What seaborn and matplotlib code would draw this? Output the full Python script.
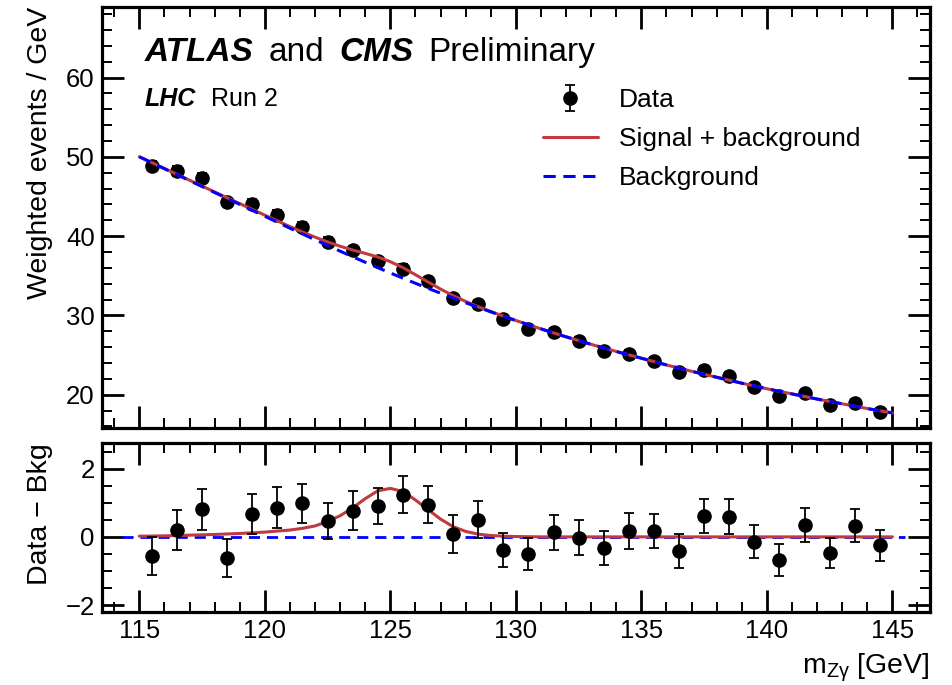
import numpy as np
import pandas as pd
import matplotlib
matplotlib.use('Agg')
import matplotlib.pyplot as plt
import seaborn as sns
from matplotlib.ticker import MultipleLocator

# bin centres (1 GeV bins) and weighted data
mass = [115.5, 116.5, 117.5, 118.5, 119.5, 120.5, 121.5, 122.5, 123.5, 124.5,
        125.5, 126.5, 127.5, 128.5, 129.5, 130.5, 131.5, 132.5, 133.5, 134.5,
        135.5, 136.5, 137.5, 138.5, 139.5, 140.5, 141.5, 142.5, 143.5, 144.5]
data_w = [48.9, 48.2, 47.3, 44.3, 44.1, 42.7, 41.2, 39.3, 38.2, 36.8,
          35.9, 34.3, 32.2, 31.4, 29.5, 28.3, 27.9, 26.75, 25.5, 25.1,
          24.25, 22.9, 23.15, 22.4, 21.0, 19.8, 20.15, 18.7, 18.95, 17.8]
# data - background and its error
resid = [-0.55, 0.20, 0.81, -0.61, 0.67, 0.86, 0.98, 0.46, 0.76, 0.91,
         1.24, 0.94, 0.09, 0.50, -0.38, -0.51, 0.13, -0.03, -0.33, 0.17,
         0.18, -0.42, 0.61, 0.59, -0.14, -0.68, 0.35, -0.48, 0.33, -0.25]
resid_err = [0.56, 0.59, 0.60, 0.56, 0.59, 0.59, 0.57, 0.53, 0.57, 0.53,
             0.55, 0.54, 0.55, 0.54, 0.50, 0.47, 0.50, 0.51, 0.49, 0.53,
             0.50, 0.49, 0.51, 0.52, 0.49, 0.48, 0.49, 0.44, 0.48, 0.46]

# fitted curves
m_curve = [115, 116, 117, 118, 119, 120, 121, 121.5, 122, 122.5, 123, 123.5,
           124, 124.5, 125, 125.5, 126, 126.5, 127, 127.5, 128, 128.5, 129,
           129.5, 130, 131, 132, 133, 134, 135, 136, 137, 138, 139, 140, 141,
           142, 143, 144, 145]
bkg_curve = [50.0, 48.5, 47.0, 45.5, 44.0, 42.5, 41.0, 40.27, 39.55, 38.82,
             38.1, 37.4, 36.7, 36.02, 35.35, 34.7, 34.05, 33.42, 32.8, 32.2,
             31.6, 31.02, 30.45, 29.9, 29.35, 28.3, 27.3, 26.35, 25.45, 24.6,
             23.75, 22.95, 22.2, 21.45, 20.75, 20.1, 19.45, 18.85, 18.25, 17.7]
sig_curve = [0.02, 0.03, 0.05, 0.07, 0.10, 0.14, 0.20, 0.25, 0.32, 0.45,
             0.62, 0.85, 1.12, 1.35, 1.42, 1.33, 1.08, 0.80, 0.52, 0.30,
             0.16, 0.08, 0.04, 0.02, 0.01, 0, 0, 0, 0, 0,
             0, 0, 0, 0, 0, 0, 0, 0, 0, 0]

curves = pd.DataFrame({'m': m_curve, 'bkg': bkg_curve, 'sig': sig_curve})
curves['sb'] = curves['bkg'] + curves['sig']

red = '#c03a3e'
blue = '#0000ff'

sns.set_theme(style='ticks')
plt.rcParams['font.family'] = ['Liberation Sans', 'DejaVu Sans']
plt.rcParams['mathtext.fontset'] = 'custom'
plt.rcParams['mathtext.rm'] = 'Liberation Sans'
plt.rcParams['axes.edgecolor'] = 'black'
plt.rcParams['axes.labelcolor'] = 'black'
plt.rcParams['text.color'] = 'black'
plt.rcParams['xtick.color'] = 'black'
plt.rcParams['ytick.color'] = 'black'

fig = plt.figure(figsize=(9.53, 6.85), dpi=100)
ax1 = fig.add_axes([0.1067, 0.3752, 0.8692, 0.6146])
ax2 = fig.add_axes([0.1067, 0.1066, 0.8692, 0.2467])


def style(ax, ymin, ymax, ymajor, yminor):
    ax.set_xlim(113.5, 146.5)
    ax.set_ylim(ymin, ymax)
    ax.xaxis.set_major_locator(MultipleLocator(5))
    ax.xaxis.set_minor_locator(MultipleLocator(1))
    ax.yaxis.set_major_locator(MultipleLocator(ymajor))
    ax.yaxis.set_minor_locator(MultipleLocator(yminor))
    ax.tick_params(which='both', direction='in', top=True, right=True,
                   labelsize=18.5, pad=5)
    ax.tick_params(which='major', length=15.5, width=2)
    ax.tick_params(which='minor', length=7.5, width=1.4)
    for s in ax.spines.values():
        s.set_linewidth(2.3)


# top panel
ax1.errorbar(mass, data_w, yerr=resid_err, fmt='o', color='black',
             markersize=9.5, elinewidth=1.3, capsize=3.5,
             capthick=1.3, label='Data', zorder=2)
sns.lineplot(data=curves, x='m', y='sb', ax=ax1, color=red, linewidth=2.2,
             label='Signal + background', zorder=3)
sns.lineplot(data=curves, x='m', y='bkg', ax=ax1, color=blue, linewidth=2.2,
             linestyle=(0, (4, 2.5)), label='Background', zorder=4)
style(ax1, 15.8, 68.9, 10, 2)
ax1.tick_params(labelbottom=False)
ax1.set_xlabel('')
ax1.set_ylabel('Weighted events / GeV', fontsize=20.5, loc='top', labelpad=9)

handles, labels = ax1.get_legend_handles_labels()
order = [labels.index(n) for n in ['Data', 'Signal + background', 'Background']]
ax1.legend([handles[i] for i in order], [labels[i] for i in order],
           loc='upper left', bbox_to_anchor=(0.5165, 0.839), frameon=False,
           fontsize=19, borderpad=0, handlelength=2.1, handletextpad=0.8,
           labelspacing=0.57)

# experiment labels
renderer = fig.canvas.get_renderer()


def put_texts(ax, x, y, parts, size):
    for txt, weight, fstyle in parts:
        t = ax.text(x, y, txt, transform=ax.transAxes, fontsize=size,
                    fontweight=weight, fontstyle=fstyle, va='baseline')
        bb = t.get_window_extent(renderer)
        x = ax.transAxes.inverted().transform((bb.x1 + 15, bb.y0))[0]


put_texts(ax1, 0.0523, 0.8724,
          [('ATLAS', 'bold', 'italic'), ('and', 'normal', 'normal'),
           ('CMS', 'bold', 'italic'), ('Preliminary', 'normal', 'normal')], 24)
put_texts(ax1, 0.0523, 0.7648,
          [('LHC', 'bold', 'italic'), ('Run 2', 'normal', 'normal')], 18)

# bottom panel
ax2.axhline(0, xmin=0.025, xmax=0.97, color=blue, linewidth=2.0,
            linestyle=(0, (4, 2.5)), zorder=1)
sns.lineplot(data=curves, x='m', y='sig', ax=ax2, color=red, linewidth=2.2,
             zorder=2)
ax2.errorbar(mass, resid, yerr=resid_err, fmt='o', color='black',
             markersize=9.5, elinewidth=1.3, capsize=3.5, capthick=1.3,
             zorder=3)
style(ax2, -2.2, 2.75, 2, 0.5)
ax2.set_ylabel('Data \u2212 Bkg', fontsize=20.5, loc='top', labelpad=9)
ax2.set_xlabel('m$_\\mathregular{Z\u03b3}$ [GeV]', fontsize=20.5,
               loc='right', labelpad=6)
fig.align_ylabels([ax1, ax2])

fig.savefig('out.png', dpi=100)
